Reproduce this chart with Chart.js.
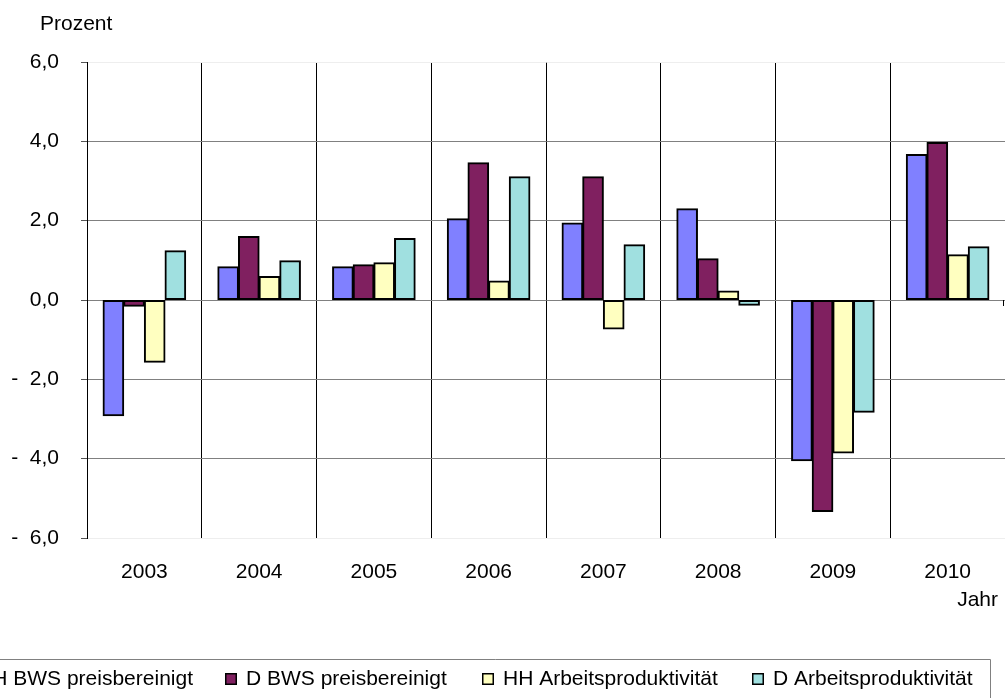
<!DOCTYPE html>
<html>
<head>
<meta charset="utf-8">
<script src="https://cdn.jsdelivr.net/npm/chart.js@4/dist/chart.umd.min.js"></script>
<style>
  html, body { margin: 0; padding: 0; background: #fff; }
  #wrap { width: 1005px; height: 698px; position: relative; overflow: hidden; }
</style>
</head>
<body>
<div id="wrap"><canvas id="c" width="1005" height="698"></canvas></div>
<script>
const categories = ['2003', '2004', '2005', '2006', '2007', '2008', '2009', '2010'];
const seriesNames = ['HH BWS preisbereinigt', 'D BWS preisbereinigt', 'HH Arbeitsproduktivität', 'D Arbeitsproduktivität'];
const hhBws = [-2.92, 0.84, 0.84, 2.05, 1.94, 2.30, -4.05, 3.67];
const dBws  = [-0.16, 1.60, 0.89, 3.46, 3.11, 1.04, -5.33, 3.97];
const hhAp  = [-1.57, 0.59, 0.94, 0.48, -0.73, 0.23, -3.86, 1.14];
const dAp   = [1.24, 0.99, 1.55, 3.11, 1.39, -0.13, -2.83, 1.34];
const colors = ['#8080FF', '#802060', '#FFFFC0', '#A0E0E0'];
const yTicks = [-6, -4, -2, 0, 2, 4, 6];
const yAxisTitle = 'Prozent';
const xAxisTitle = 'Jahr';

const FONT = '"Liberation Sans", Arial, sans-serif';
const seriesValues = [hhBws, dBws, hhAp, dAp];

function fmt(v) {
  const s = Math.abs(v).toFixed(1).replace('.', ',');
  return v < 0 ? '-  ' + s : s;
}

const extras = {
  id: 'extras',
  afterDraw(chart) {
    const ctx = chart.ctx;
    ctx.save();
    ctx.fillStyle = '#000';
    ctx.font = '21px ' + FONT;
    ctx.textBaseline = 'alphabetic';
    ctx.textAlign = 'left';
    ctx.fillText(yAxisTitle, 40, 29.5);
    ctx.textAlign = 'right';
    ctx.fillText(xAxisTitle, 998, 606);

    // small end mark on the zero line at the right edge
    const y0 = chart.scales.y.getPixelForValue(0);
    ctx.strokeStyle = '#000';
    ctx.lineWidth = 1;
    ctx.beginPath();
    ctx.moveTo(1003.5, Math.round(y0));
    ctx.lineTo(1003.5, Math.round(y0) + 6);
    ctx.stroke();

    // legend frame
    ctx.strokeStyle = '#808080';
    ctx.lineWidth = 1;
    ctx.beginPath();
    ctx.moveTo(0, 659.5);
    ctx.lineTo(990.5, 659.5);
    ctx.lineTo(990.5, 700);
    ctx.stroke();

    // legend items
    const markerX = [null, 225, 482, 752];
    const ds = chart.data.datasets;
    ctx.textAlign = 'left';
    for (let i = 0; i < ds.length; i++) {
      let mx = markerX[i];
      if (mx === null) {
        const w = ctx.measureText(ds[i].label).width;
        mx = 193 - w - 21;
      }
      ctx.fillStyle = ds[i].backgroundColor;
      ctx.fillRect(mx, 673, 12, 12);
      ctx.strokeStyle = '#000';
      ctx.lineWidth = 1.5;
      ctx.strokeRect(mx + 0.75, 673.75, 10.5, 10.5);
      ctx.fillStyle = '#000';
      ctx.fillText(ds[i].label, mx + 21, 685);
    }
    ctx.restore();
  }
};

new Chart(document.getElementById('c'), {
  type: 'bar',
  data: {
    labels: categories,
    datasets: seriesNames.map((name, i) => ({
      label: name,
      data: seriesValues[i],
      backgroundColor: colors[i],
      borderColor: '#000',
      borderWidth: 2,
      borderSkipped: false,
      inflateAmount: 0.5,
      categoryPercentage: 0.72,
      barPercentage: 1.0
    }))
  },
  options: {
    responsive: false,
    devicePixelRatio: 1,
    animation: false,
    layout: { padding: { top: 62, left: 0, right: 0, bottom: 0 } },
    plugins: { legend: { display: false }, tooltip: { enabled: false } },
    scales: {
      x: {
        offset: true,
        grid: { color: '#000', lineWidth: 1, drawTicks: false, offset: true },
        border: { display: false },
        ticks: { color: '#000', font: { family: FONT, size: 21 }, padding: 22, maxRotation: 0 },
        afterFit(s) { s.height = 160; }
      },
      y: {
        min: -6, max: 6,
        afterBuildTicks(s) { s.ticks = yTicks.map(v => ({ value: v })); },
        grid: {
          color: ctx => (ctx.tick && Math.abs(ctx.tick.value) === 6) ? '#eeeeee' : '#808080',
          tickColor: '#555',
          tickLength: 6,
          lineWidth: 1
        },
        border: { display: true, color: '#000', width: 1 },
        ticks: { color: '#000', font: { family: FONT, size: 21 }, padding: 22, callback: v => fmt(v) },
        afterFit(s) { s.width = 87; }
      }
    }
  },
  plugins: [extras]
});
</script>
</body>
</html>
